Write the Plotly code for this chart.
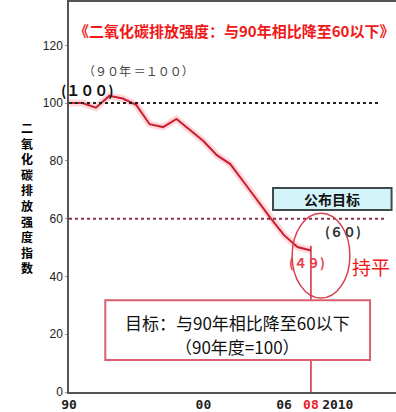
import plotly.graph_objects as go

# CO2 emission intensity index (1990 = 100)
years = [1990, 1991, 1992, 1993, 1994, 1995, 1996, 1997, 1998, 1999,
         2000, 2001, 2002, 2003, 2004, 2005, 2006, 2007, 2008]
intensity = [100, 100, 98.4, 102.5, 101.6, 99.4, 92.7, 91.7, 94.5, 90.7,
             86.9, 82.0, 78.9, 72.7, 66.4, 60.2, 54.3, 50.2, 49]

base_level = 100
target_level = 60
latest_year = 2008
latest_value = 49

x_tick_vals = [1990, 2000, 2006, 2008, 2010]
x_tick_text = ["90", "00", "06", "<span style='color:#e8202a'>08</span>", "2010"]
y_tick_vals = [0, 20, 40, 60, 80, 100, 120]

CJK = "Noto Sans CJK SC"
X_RANGE = [1990, 2014.33]
Y_RANGE = [0, 135]

fig = go.Figure()

# soft halo under the series line
fig.add_trace(go.Scatter(
    x=years, y=intensity, mode="lines",
    line=dict(color="rgba(255,110,130,0.28)", width=7),
    hoverinfo="skip", showlegend=False))
fig.add_trace(go.Scatter(
    x=years, y=intensity, mode="lines",
    line=dict(color="#c8202e", width=2),
    showlegend=False))

shapes = [
    # baseline 100
    dict(type="line", xref="x", yref="y", x0=1990, x1=2013.1,
         y0=base_level, y1=base_level,
         line=dict(color="#222222", width=2, dash="dot")),
    # target 60
    dict(type="line", xref="x", yref="y", x0=1990, x1=2013.5,
         y0=target_level, y1=target_level,
         line=dict(color="#8a3050", width=2, dash="dot")),
    # marker line at the latest year
    dict(type="line", xref="x", yref="y", x0=latest_year, x1=latest_year,
         y0=0, y1=latest_value + 1.6,
         line=dict(color="#d8283a", width=1.5)),
    # "公布目标" box
    dict(type="rect", xref="x", yref="y", x0=2005.18, x1=2014.0,
         y0=63.0, y1=70.6,
         line=dict(color="#404848", width=2), fillcolor="#d2f4f8"),
    # highlight ellipse
    dict(type="circle", xref="x", yref="y", x0=2006.6, x1=2010.9,
         y0=32.5, y1=61.9,
         line=dict(color="#d84050", width=1.5)),
    # target text box
    dict(type="rect", xref="x", yref="y", x0=1992.7, x1=2012.4,
         y0=11.1, y1=31.8,
         line=dict(color="#d86070", width=2), fillcolor="white"),
]

annotations = [
    dict(text="《二氧化碳排放强度：与90年相比降至60以下》",
         x=1990.25, y=125.3, xanchor="left", yanchor="middle",
         font=dict(family=CJK, size=15, color="#f01818", weight="bold")),
    dict(text="（９０年 ＝１００）", x=1995.2, y=111.4,
         font=dict(family=CJK, size=12, color="#444444")),
    dict(text="(１００)", x=1991.4, y=104.6,
         font=dict(family=CJK, size=14, color="#111111", weight="bold")),
    dict(text="公布目标", x=2009.6, y=66.8,
         font=dict(family=CJK, size=14, color="#111111", weight="bold")),
    dict(text="(６０)", x=2010.4, y=55.4,
         font=dict(family=CJK, size=13, color="#333333", weight="bold")),
    dict(text="(４９)", x=2007.7, y=45.0,
         font=dict(family=CJK, size=13, color="#e8404a", weight="bold")),
    dict(text="持平", x=2012.5, y=43.3,
         font=dict(family=CJK, size=19, color="#f01818")),
    dict(text="目标：与90年相比降至60以下", x=2002.55, y=24.2,
         font=dict(family=CJK, size=17, color="#111111")),
    dict(text="（90年度=100）", x=2002.55, y=15.6,
         font=dict(family=CJK, size=17, color="#111111")),
    # stacked vertical axis title
    dict(text="<br>".join("二氧化碳排放强度指数"),
         xref="paper", yref="paper", x=-0.153, y=0.5,
         font=dict(family=CJK, size=12, color="#000000", weight="bold")),
]
for a in annotations:
    a.setdefault("xref", "x")
    a.setdefault("yref", "y")
    a["showarrow"] = False

fig.update_layout(
    width=396, height=412,
    margin=dict(l=69, r=0, t=2, b=20),
    plot_bgcolor="white", paper_bgcolor="white",
    shapes=shapes, annotations=annotations,
    xaxis=dict(range=X_RANGE, tickvals=x_tick_vals, ticktext=x_tick_text,
               showgrid=False, zeroline=False, showline=True, mirror=True,
               linecolor="#555555", linewidth=1.5, ticks="",
               tickangle=0, automargin=False,
               tickfont=dict(family="DejaVu Sans Mono", size=13,
                             color="#222222", weight="bold")),
    yaxis=dict(range=Y_RANGE, tickvals=y_tick_vals, automargin=False,
               showgrid=False, zeroline=False, showline=True,
               linecolor="#555555", linewidth=1.5, ticks="outside",
               ticklen=2, tickcolor="#999999",
               tickfont=dict(family="Liberation Sans", size=12,
                             color="#222222")),
)

fig.write_html("out.html")
